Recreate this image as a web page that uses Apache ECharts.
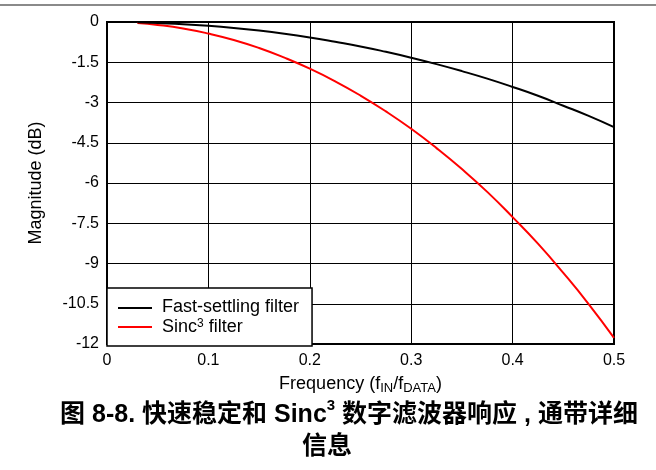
<!DOCTYPE html>
<html>
<head>
<meta charset="utf-8">
<script src="https://cdn.jsdelivr.net/npm/echarts@6/dist/echarts.min.js"></script>
<style>
  html, body { margin: 0; padding: 0; background: #fff; }
  #chart { width: 656px; height: 470px; }
</style>
</head>
<body>
<div id="chart"></div>
<script>
// frequency points (fIN/fDATA)
var freq = [0.03, 0.05, 0.075, 0.1, 0.125, 0.15, 0.175, 0.2, 0.225, 0.25, 0.275,
            0.3, 0.325, 0.35, 0.375, 0.4, 0.425, 0.45, 0.475, 0.5];
// magnitude in dB
var fastSettling = [-0.01, -0.04, -0.08, -0.14, -0.22, -0.32, -0.44, -0.58, -0.74, -0.91, -1.11,
                    -1.33, -1.57, -1.83, -2.11, -2.42, -2.75, -3.12, -3.50, -3.92];
var sinc3 = [-0.04, -0.11, -0.24, -0.43, -0.67, -0.97, -1.33, -1.74, -2.21, -2.74, -3.33,
             -3.98, -4.70, -5.48, -6.33, -7.27, -8.26, -9.35, -10.51, -11.77];
var seriesNames = ['Fast-settling filter', 'Sinc3 filter'];
var seriesColors = ['#000000', '#ff0000'];

var font = 'Liberation Sans, Arial, Noto Sans CJK SC, sans-serif';

function pairs(ys) {
  var out = [];
  for (var i = 0; i < freq.length; i++) out.push([freq[i], ys[i]]);
  return out;
}

var myChart = echarts.init(document.getElementById('chart'));

var option = {
  animation: false,
  title: [{
    text: '{b|图 8-8. 快速稳定和 Sinc}{s|3}{b| 数字滤波器响应 , 通带详细}',
    left: 344,
    top: 393,
    textAlign: 'center',
    textStyle: {
      rich: {
        b: { fontFamily: font, fontWeight: 'bold', fontSize: 25, color: '#000', lineHeight: 30, verticalAlign: 'bottom' },
        s: { fontFamily: font, fontWeight: 'bold', fontSize: 15, color: '#000', lineHeight: 23, verticalAlign: 'top' }
      }
    }
  }, {
    text: '信息',
    left: 322,
    top: 430,
    textAlign: 'center',
    textStyle: { fontFamily: font, fontWeight: 'bold', fontSize: 25, color: '#000' }
  }],
  grid: {
    left: 107,
    right: 42,
    top: 22,
    bottom: 126,
    show: true,
    borderColor: '#000',
    borderWidth: 2,
    containLabel: false
  },
  legend: {
    orient: 'vertical',
    left: 107,
    top: 288,
    padding: [10, 13, 10, 11],
    itemWidth: 34,
    itemHeight: 2,
    itemGap: 2,
    backgroundColor: '#fff',
    borderColor: '#000',
    borderWidth: 1.5,
    data: [
      { name: seriesNames[0], icon: 'rect' },
      { name: seriesNames[1], icon: 'rect' }
    ],
    formatter: function (name) {
      if (name === 'Sinc3 filter') return '{t|Sinc}{p|3}{t| filter}';
      return '{t|' + name + '}';
    },
    textStyle: {
      padding: [0, 0, 0, 5],
      rich: {
        t: { fontFamily: font, fontSize: 18, color: '#000', lineHeight: 16, verticalAlign: 'bottom' },
        p: { fontFamily: font, fontSize: 12, color: '#000', lineHeight: 18, verticalAlign: 'top' }
      }
    }
  },
  xAxis: {
    type: 'value',
    min: 0,
    max: 0.5,
    interval: 0.1,
    name: '{n|Frequency (f}{d|IN}{n|/f}{d|DATA}{n|)}',
    nameLocation: 'middle',
    nameGap: 31,
    nameTextStyle: {
      rich: {
        n: { fontFamily: font, fontSize: 18, color: '#000', lineHeight: 20, verticalAlign: 'top' },
        d: { fontFamily: font, fontSize: 13, color: '#000', lineHeight: 13, verticalAlign: 'bottom' }
      }
    },
    axisLine: { show: false },
    axisTick: { show: false },
    axisLabel: {
      fontFamily: font, fontSize: 16, color: '#000', margin: 9,
      formatter: function (v) { return v === 0 ? '0' : String(+v.toFixed(1)); }
    },
    splitLine: { show: true, lineStyle: { color: '#000', width: 1 } }
  },
  yAxis: {
    type: 'value',
    min: -12,
    max: 0,
    interval: 1.5,
    name: 'Magnitude (dB)',
    nameLocation: 'middle',
    nameGap: 62,
    nameRotate: 90,
    nameTextStyle: { fontFamily: font, fontSize: 18, color: '#000' },
    axisLine: { show: false },
    axisTick: { show: false },
    axisLabel: { fontFamily: font, fontSize: 16, color: '#000', margin: 8 },
    splitLine: { show: true, lineStyle: { color: '#000', width: 1 } }
  },
  graphic: [{
    type: 'line',
    shape: { x1: 0, y1: 5, x2: 656, y2: 5 },
    style: { stroke: '#8a8a8a', lineWidth: 2 }
  }],
  series: [{
    name: seriesNames[0],
    type: 'line',
    smooth: true,
    showSymbol: false,
    color: seriesColors[0],
    lineStyle: { color: seriesColors[0], width: 2 },
    data: pairs(fastSettling),
    z: 3
  }, {
    name: seriesNames[1],
    type: 'line',
    smooth: true,
    showSymbol: false,
    color: seriesColors[1],
    lineStyle: { color: seriesColors[1], width: 2 },
    data: pairs(sinc3),
    z: 2
  }]
};

myChart.setOption(option);
</script>
</body>
</html>
